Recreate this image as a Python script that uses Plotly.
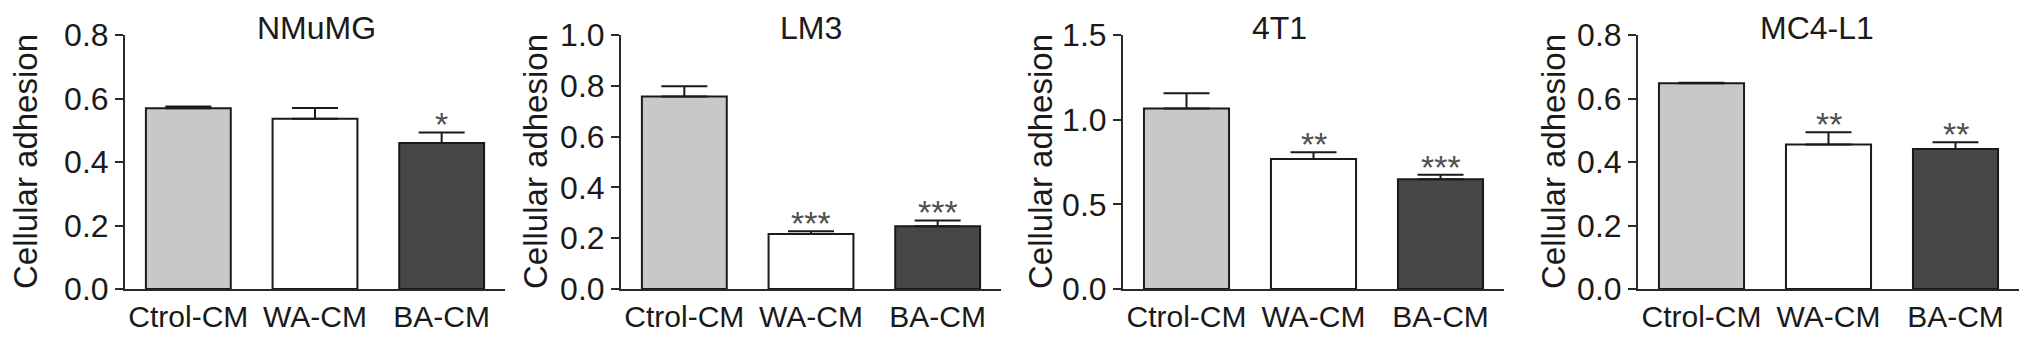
import plotly.graph_objects as go

W, H = 2032, 341
OFF = 8  # default page body margin offsets the figure in the browser window

categories = ["Ctrol-CM", "WA-CM", "BA-CM"]
panel_titles = ["NMuMG", "LM3", "4T1", "MC4-L1"]

nmumg_mean = [0.569, 0.536, 0.460]
nmumg_err = [0.006, 0.034, 0.033]
lm3_mean = [0.758, 0.217, 0.247]
lm3_err = [0.040, 0.010, 0.023]
t41_mean = [1.066, 0.768, 0.648]
t41_err = [0.090, 0.040, 0.026]
mc4_mean = [0.648, 0.455, 0.441]
mc4_err = [0.002, 0.039, 0.021]

nmumg_sig = ["", "", "*"]
lm3_sig = ["", "***", "***"]
t41_sig = ["", "**", "***"]
mc4_sig = ["", "**", "**"]

y_max = [0.8, 1.0, 1.5, 0.8]
y_dtick = [0.2, 0.2, 0.5, 0.2]

bar_colors = ["#c8c8c8", "#ffffff", "#474747"]

means = [nmumg_mean, lm3_mean, t41_mean, mc4_mean]
errs = [nmumg_err, lm3_err, t41_err, mc4_err]
sigs = [nmumg_sig, lm3_sig, t41_sig, mc4_sig]

# layout geometry (window pixels)
x_domains_px = [(125, 505), (621, 1001), (1123, 1504), (1638, 2019)]
y_domain_px = (35, 289)
ytitle_x_px = [25, 535, 1040, 1553]
title_x_px = [316, 811, 1279, 1817]

FONT = "Liberation Sans, Arial, Helvetica, sans-serif"
INK = "#1a1a1a"

def px_x(p):
    return (p - OFF) / W

def px_y(p):
    return 1 - (p - OFF) / H

fig = go.Figure()
annotations = []
layout_axes = {}

for i in range(4):
    sx = "" if i == 0 else str(i + 1)
    xref = "x" + sx
    yref = "y" + sx
    fig.add_trace(go.Bar(
        x=categories, y=means[i],
        xaxis=xref, yaxis=yref,
        width=0.67,
        marker=dict(color=bar_colors, line=dict(color=INK, width=2)),
        error_y=dict(type="data", symmetric=False, array=errs[i],
                     arrayminus=[0, 0, 0], color=INK,
                     thickness=2, width=23),
        showlegend=False,
    ))
    layout_axes["xaxis" + sx] = dict(
        domain=[px_x(x_domains_px[i][0]), px_x(x_domains_px[i][1])],
        anchor=yref, range=[-0.5, 2.5], type="category",
        showline=True, linecolor="#2a2a2a", linewidth=2,
        ticks="", showgrid=False, zeroline=False, automargin=False,
        tickfont=dict(family=FONT, size=30, color=INK),
    )
    layout_axes["yaxis" + sx] = dict(
        domain=[px_y(y_domain_px[1]), px_y(y_domain_px[0])],
        anchor=xref, range=[0, y_max[i]], dtick=y_dtick[i], tick0=0,
        tickformat=".1f",
        showline=True, linecolor="#2a2a2a", linewidth=2,
        ticks="outside", ticklen=8, tickwidth=2, tickcolor="#2a2a2a",
        showgrid=False, zeroline=False, automargin=False,
        tickfont=dict(family=FONT, size=32, color=INK),
    )
    annotations.append(dict(
        text="Cellular adhesion", textangle=-90,
        x=px_x(ytitle_x_px[i]), y=px_y((y_domain_px[0] + y_domain_px[1]) / 2),
        xref="paper", yref="paper", showarrow=False,
        xanchor="center", yanchor="middle",
        font=dict(family=FONT, size=33, color=INK),
    ))
    annotations.append(dict(
        text=panel_titles[i],
        x=px_x(title_x_px[i]), y=1.0,
        xref="paper", yref="paper", showarrow=False,
        xanchor="center", yanchor="top",
        font=dict(family=FONT, size=32, color=INK),
    ))
    for j, s in enumerate(sigs[i]):
        if s:
            annotations.append(dict(
                text=s, x=categories[j], y=means[i][j] + errs[i][j],
                xref=xref, yref=yref, showarrow=False,
                xanchor="center", yanchor="middle", yshift=8,
                font=dict(family=FONT, size=34, color="#505050"),
            ))

fig.update_layout(
    template="none",
    width=W, height=H,
    margin=dict(l=0, r=0, t=0, b=0, pad=0),
    paper_bgcolor="white", plot_bgcolor="white",
    annotations=annotations,
    **layout_axes,
)

fig.write_html("out.html")
